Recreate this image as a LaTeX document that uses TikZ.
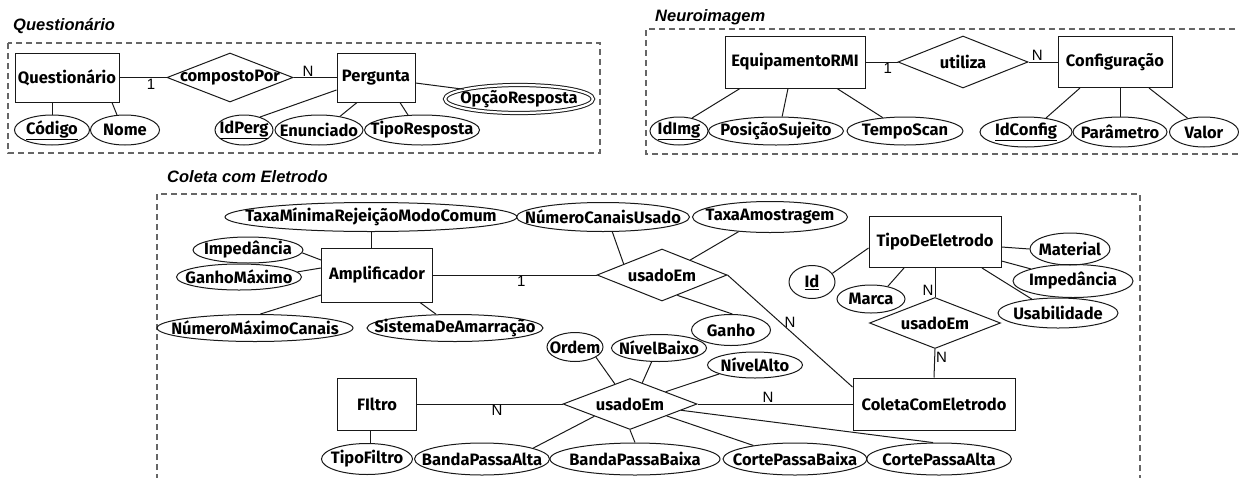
\documentclass[tikz,border=0pt]{standalone}
\usepackage{fontspec}
\usetikzlibrary{shapes.geometric}
\newfontfamily\erfam{Fira Sans}
\newfontfamily\labfam{Liberation Sans}
\newcommand\erfnt{\erfam\bfseries\fontsize{16.5}{18}\selectfont}
\newcommand\cardfnt{\labfam\fontsize{15}{17}\selectfont}
\newcommand\headfnt{\labfam\bfseries\itshape\fontsize{16.5}{18}\selectfont}

\begin{document}
\begin{tikzpicture}[x=1pt,y=-1pt,
  ln/.style={line width=1pt, draw=black!90},
  ent/.style={draw, ln, rectangle, inner sep=0pt, font=\erfnt},
  attr/.style={draw, ln, ellipse, inner sep=0pt, label={[font=\erfnt, inner sep=0pt]center:#1}},
  rel/.style={draw, ln, diamond, inner sep=0pt, label={[font=\erfnt, inner sep=0pt]center:#1}},
  wh/.style 2 args={minimum width=#1pt, minimum height=#2pt},
  card/.style={font=\cardfnt, inner sep=1pt},
  head/.style={font=\headfnt, inner sep=0pt, anchor=base west},
  dashframe/.style={draw=black!60, line width=1.2pt, dash pattern=on 6pt off 4pt},
]
\useasboundingbox (0,0) rectangle (1239,477);

% ---------- group frames and titles ----------
\draw[dashframe] (8,43) rectangle (600,153);
\draw[dashframe] (1245,29) -- (646,29) -- (646,154) -- (1245,154);
\draw[dashframe] (157,480) -- (157,194) -- (1140,194) -- (1140,480);
\node[head] (hq) at (13,30) {Questionário};
\node[head] (hn) at (655,21.5) {Neuroimagem};
\node[head] (hc) at (167,182) {Coleta com Eletrodo};

% ---------- Questionário ----------
\node[ent, wh={104}{49}] (quest) at (67,77.5) {Questionário};
\node[rel={compostoPor}, wh={126}{49}] (cp) at (230,77.5) {};
\node[ent, wh={78}{49}] (perg) at (376,77.5) {Pergunta};
\node[attr={OpçãoResposta}, wh={148}{28}, double, double distance=2.2pt] (opcao) at (519,99) {};
\node[attr={\underline{Código}}, wh={75}{30}] (codigo) at (52,130) {};
\node[attr={Nome}, wh={69}{30}] (nome) at (125,130) {};
\node[attr={\underline{IdPerg}}, wh={58}{30}] (idperg) at (244,130) {};
\node[attr={Enunciado}, wh={88}{30}] (enunc) at (319,130) {};
\node[attr={TipoResposta}, wh={115}{30}] (tiporesp) at (422,130) {};

\draw[ln] (quest.east) -- node[card, pos=0.67, below] (c1) {1} (cp.west);
\draw[ln] (cp.east) -- node[card, pos=0.34, above] (c2) {N} (perg.west);
\draw[ln] ([xshift=-15pt]quest.south) -- (codigo.north);
\draw[ln] ([xshift=45pt]quest.south) -- (nome.118);
\draw[ln] ([yshift=-12.5pt]perg.west) -- (idperg.39);
\draw[ln] ([xshift=-19pt]perg.south) -- (enunc.33);
\draw[ln] ([xshift=24pt]perg.south) -- (tiporesp.133);
\draw[ln] ([yshift=-5.5pt]perg.east) -- (opcao.170);

% ---------- Neuroimagem ----------
\node[ent, wh={140}{52}] (eq) at (795,62) {EquipamentoRMI};
\node[rel={utiliza}, wh={130}{52}] (util) at (963,62) {};
\node[ent, wh={114}{51}] (config) at (1115,62) {Configuração};
\node[attr={\underline{IdImg}}, wh={58}{28}] (idimg) at (679,131) {};
\node[attr={PosiçãoSujeito}, wh={135}{28}] (posicao) at (776,131) {};
\node[attr={TempoScan}, wh={116}{28}] (tempo) at (905,131) {};
\node[attr={\underline{IdConfig}}, wh={92}{30}] (idconfig) at (1026,132) {};
\node[attr={Parâmetro}, wh={94}{30}] (param) at (1120,132) {};
\node[attr={Valor}, wh={69}{30}] (valor) at (1204,132) {};

\draw[ln] (eq.east) -- node[card, pos=0.7, below] (c3) {1} (util.west);
\draw[ln] (util.east) -- node[card, pos=0.3, above] (c4) {N} (config.west);
\draw[ln] ([xshift=-55pt]eq.south) -- (idimg.45);
\draw[ln] ([xshift=-7pt]eq.south) -- (posicao.67);
\draw[ln] ([xshift=42pt]eq.south) -- (tempo.149);
\draw[ln] ([xshift=-35pt]config.south) -- (idconfig.35);
\draw[ln] ([xshift=5pt]config.south) -- (param.north);
\draw[ln] ([xshift=34pt]config.south) -- (valor.140);

% ---------- Coleta com Eletrodo ----------
\node[ent, wh={111}{54}] (amp) at (377,275) {Amplificador};
\node[attr={TaxaMínimaRejeiçãoModoComum}, wh={292}{29}] (taxamin) at (371,217) {};
\node[attr={NúmeroCanaisUsado}, wh={173}{29}] (numcan) at (603,217) {};
\node[attr={TaxaAmostragem}, wh={155}{31}] (taxaamo) at (770,217) {};
\node[attr={Impedância}, wh={110}{26}] (imp1) at (248,250) {};
\node[attr={GanhoMáximo}, wh={125}{26}] (ganhomax) at (239,277) {};
\node[attr={NúmeroMáximoCanais}, wh={196}{27}] (nmaxcan) at (255,328) {};
\node[attr={SistemaDeAmarração}, wh={176}{27}] (sistema) at (455,328) {};
\node[rel={usadoEm}, wh={130}{52}] (usado1) at (662,275) {};

\node[ent, wh={132}{51}] (tipo) at (935,242) {TipoDeEletrodo};
\node[attr={\underline{Id}}, wh={46}{33}] (id) at (812,282) {};
\node[attr={Marca}, wh={68}{28}] (marca) at (871,299) {};
\node[rel={usadoEm}, wh={131}{51}] (usado2) at (935,323) {};
\node[attr={Material}, wh={80}{32}] (material) at (1070,249) {};
\node[attr={Impedância}, wh={120}{33}] (imp2) at (1073,281) {};
\node[attr={Usabilidade}, wh={120}{30}] (usab) at (1058,313) {};

\node[attr={Ordem}, wh={56}{29}] (ordem) at (575,347) {};
\node[attr={NívelBaixo}, wh={95}{27}] (nivelbaixo) at (659,348) {};
\node[attr={Ganho}, wh={79}{31}] (ganho) at (731,330) {};
\node[attr={NívelAlto}, wh={95}{26}] (nivelalto) at (755,365) {};
\node[rel={usadoEm}, wh={134}{51}] (usado3) at (630,404) {};
\node[ent, wh={79}{52}] (filtro) at (377,404) {FIltro};
\node[ent, wh={162}{52}] (coleta) at (934,404) {ColetaComEletrodo};
\node[attr={TipoFiltro}, wh={91}{31}] (tipofiltro) at (367,459) {};
\node[attr={BandaPassaAlta}, wh={135}{32}] (bandapa) at (482,459) {};
\node[attr={BandaPassaBaixa}, wh={170}{32}] (bandapb) at (635,459) {};
\node[attr={CortePassaBaixa}, wh={144}{32}] (cortepb) at (795,459) {};
\node[attr={CortePassaAlta}, wh={145}{32}] (cortepa) at (939,459) {};

% amplifier attributes and relationship
\draw[ln] (taxamin.south) -- ([xshift=-6pt]amp.north);
\draw[ln] (imp1.-3) -- ([yshift=15pt]amp.west);
\draw[ln] (ganhomax.5) -- ([yshift=7pt]amp.west);
\draw[ln] (nmaxcan.69) -- ([yshift=-20pt]amp.west);
\draw[ln] (sistema.144) -- ([xshift=43pt]amp.south);
\draw[ln] (amp.east) -- node[card, pos=0.54, below] (c5) {1} (usado1.west);
\draw[ln] (numcan.-58) -- (usado1.164);
\draw[ln] (taxaamo.-155) -- (usado1.28);
\draw[ln] (usado1.-53) -- (ganho.85);
\draw[ln] (usado1.east) -- node[card, pos=0.42, anchor=west, xshift=3pt] (c6) {N} ([yshift=17pt]coleta.west);

% electrode type
\draw[ln] (id.23) -- ([yshift=-6pt]tipo.west);
\draw[ln] (marca.37) -- ([xshift=-31pt]tipo.south);
\draw[ln] (tipo.south) -- node[card, pos=0.77, left] (c7) {N} (usado2.north);
\draw[ln] ([yshift=-5pt]tipo.east) -- (material.west);
\draw[ln] ([yshift=-19pt]tipo.east) -- (imp2.164);
\draw[ln] ([xshift=47pt]tipo.south) -- (usab.152);
\draw[ln] (usado2.south) -- node[card, pos=0.3, right] (c8) {N} (coleta.north);

% filter relationship
\draw[ln] (ordem.-26) -- (usado3.127);
\draw[ln] (nivelbaixo.-118) -- (usado3.60);
\draw[ln] (nivelalto.-166) -- (usado3.19);
\draw[ln] (usado3.east) -- node[card, pos=0.455, above] (c9) {N} (coleta.west);
\draw[ln] (filtro.east) -- node[card, pos=0.55, below] (c10) {N} (usado3.west);
\draw[ln] ([xshift=-7pt]filtro.south) -- ([xshift=3pt]tipofiltro.north);
\draw[ln] (usado3.-161) -- (bandapa.12);
\draw[ln] (usado3.south) -- (bandapb.north);
\draw[ln] (usado3.-18) -- (cortepb.162);
\draw[ln] (usado3.-7) -- (cortepa.110);
\end{tikzpicture}
\end{document}
